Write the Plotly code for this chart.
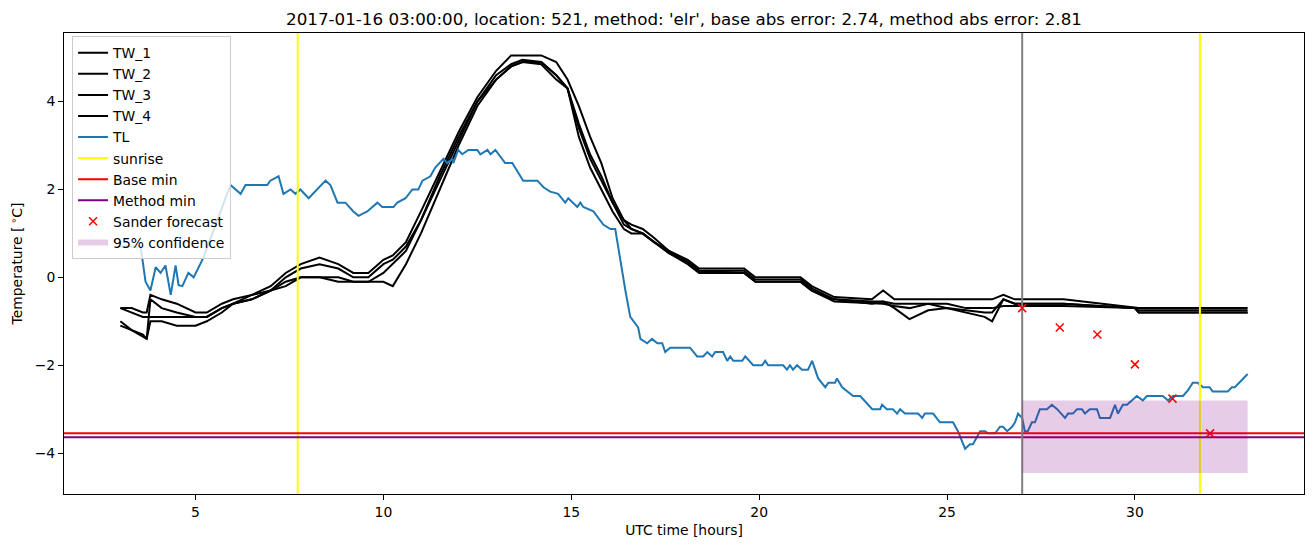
import plotly.graph_objects as go

# ---------------- data ----------------
title_text = ("2017-01-16 03:00:00, location: 521, method: 'elr', "
              "base abs error: 2.74, method abs error: 2.81")

tw_time = [3.0, 3.3, 3.6, 3.7, 3.8, 4.1, 4.5, 5.0, 5.3, 5.7, 6.0, 6.5, 7.0, 7.4, 7.8,
           8.3, 8.8, 9.2, 9.6, 10.0, 10.25, 10.6, 11.0, 11.5, 12.0, 12.5, 13.0, 13.4,
           13.7, 14.2, 14.6, 14.9, 15.2, 15.5, 15.8, 16.1, 16.4, 16.6, 16.9, 17.2,
           17.6, 18.1, 18.4, 19.6, 19.9, 21.1, 21.4, 22.0, 23.0, 23.3, 23.6, 24.0,
           24.5, 25.0, 25.5, 26.0, 26.2, 26.5, 26.8, 28.1, 30.0, 30.1, 31.0, 32.0, 33.0]

tw_1 = [-0.7, -0.7, -0.8, -0.8, -0.4, -0.5, -0.6, -0.8, -0.8, -0.6, -0.5, -0.4, -0.2, 0.1, 0.3,
        0.45, 0.3, 0.1, 0.1, 0.4, 0.5, 0.8, 1.5, 2.4, 3.3, 4.1, 4.7, 5.05,
        5.05, 5.05, 4.9, 4.5, 3.9, 3.2, 2.6, 1.8, 1.3, 1.2, 1.1, 0.9,
        0.6, 0.4, 0.2, 0.2, 0.0, 0.0, -0.2, -0.45, -0.5, -0.3, -0.5, -0.5,
        -0.5, -0.5, -0.5, -0.5, -0.5, -0.4, -0.5, -0.5, -0.7, -0.7, -0.7, -0.7, -0.7]

tw_2 = [-0.7, -0.8, -0.9, -0.9, -0.9, -0.9, -0.9, -0.9, -0.9, -0.7, -0.6, -0.4, -0.3, 0.0, 0.2,
        0.3, 0.2, 0.0, 0.0, 0.3, 0.4, 0.7, 1.3, 2.2, 3.1, 4.0, 4.5, 4.8,
        4.9, 4.9, 4.6, 4.3, 3.5, 2.8, 2.3, 1.7, 1.2, 1.1, 1.0, 0.8,
        0.6, 0.35, 0.15, 0.15, -0.05, -0.05, -0.25, -0.5, -0.55, -0.55, -0.7, -0.95,
        -0.75, -0.7, -0.75, -0.8, -0.8, -0.5, -0.6, -0.6, -0.7, -0.8, -0.8, -0.8, -0.8]

tw_3 = [-1.0, -1.2, -1.35, -1.4, -0.5, -0.7, -0.8, -0.9, -0.9, -0.7, -0.6, -0.5, -0.3, -0.2, 0.0,
        0.0, 0.0, -0.1, -0.1, 0.1, 0.3, 0.6, 1.3, 2.3, 3.2, 4.0, 4.6, 4.85,
        4.95, 4.9, 4.6, 4.3, 3.4, 2.7, 2.2, 1.7, 1.3, 1.1, 1.0, 0.8,
        0.55, 0.35, 0.15, 0.1, -0.1, -0.1, -0.3, -0.55, -0.6, -0.6, -0.65, -0.7,
        -0.6, -0.7, -0.8, -0.9, -1.0, -0.5, -0.6, -0.6, -0.7, -0.75, -0.75, -0.75, -0.75]

tw_4 = [-1.1, -1.2, -1.3, -1.4, -1.0, -1.0, -1.1, -1.1, -1.0, -0.8, -0.6, -0.5, -0.3, -0.1, 0.0,
        0.0, -0.1, -0.1, -0.1, -0.1, -0.2, 0.3, 1.0, 2.0, 3.0, 3.9, 4.5, 4.8,
        4.9, 4.85, 4.5, 4.3, 3.2, 2.5, 2.0, 1.5, 1.1, 1.0, 1.0, 0.8,
        0.55, 0.3, 0.1, 0.1, -0.1, -0.1, -0.3, -0.5, -0.6, -0.55, -0.6, -0.6,
        -0.6, -0.6, -0.7, -0.7, -0.7, -0.65, -0.65, -0.65, -0.7, -0.8, -0.8, -0.8, -0.8]

tl_time = [3.0, 3.54, 3.67, 3.80, 3.94, 4.07, 4.20, 4.34, 4.47, 4.55, 4.65, 4.81, 4.95, 5.13,
           5.21, 5.93, 6.20, 6.33, 6.91, 6.99, 7.21, 7.34, 7.53, 7.66, 7.79, 8.01, 8.24,
           8.46, 8.59, 8.78, 8.99, 9.20, 9.34, 9.57, 9.84, 9.97, 10.27, 10.37, 10.59,
           10.77, 10.93, 11.04, 11.25, 11.38, 11.60, 11.70, 11.84, 11.86, 11.99, 12.10,
           12.26, 12.50, 12.58, 12.77, 12.85, 12.98, 13.24, 13.43, 13.72, 14.10, 14.26,
           14.44, 14.65, 14.84, 14.92, 15.16, 15.24, 15.32, 15.59, 15.85, 16.04, 16.17,
           16.44, 16.57, 16.78, 16.84, 17.02, 17.15, 17.29, 17.42, 17.50, 17.63, 18.16,
           18.35, 18.51, 18.62, 18.75, 18.83, 19.04, 19.15, 19.23, 19.31, 19.55, 19.63,
           19.84, 20.08, 20.16, 20.24, 20.64, 20.74, 20.82, 20.90, 21.01, 21.14, 21.30,
           21.41, 21.57, 21.76, 21.84, 22.02, 22.07, 22.21, 22.50, 22.69, 23.01, 23.22,
           23.27, 23.40, 23.56, 23.67, 23.75, 23.88, 24.23, 24.34, 24.41, 24.63, 24.81,
           25.16, 25.29, 25.48, 25.61, 25.69, 25.88, 26.01, 26.09, 26.28, 26.41, 26.49,
           26.60, 26.73, 26.81, 26.89, 27.00, 27.07, 27.15, 27.26, 27.34, 27.47, 27.66,
           27.79, 27.93, 28.14, 28.22, 28.35, 28.46, 28.59, 28.67, 28.80, 28.99, 29.07,
           29.34, 29.47, 29.55, 29.68, 29.79, 29.92, 30.05, 30.21, 30.32, 30.74, 30.88,
           31.01, 31.28, 31.41, 31.54, 31.67, 31.81, 31.99, 32.07, 32.47, 32.58, 32.66, 33.0]

tl_vals = [0.7, 0.7, -0.1, -0.3, 0.23, 0.1, 0.27, -0.4, 0.27, -0.18, -0.2, 0.1, 0.0, 0.3,
           0.45, 2.1, 1.9, 2.1, 2.1, 2.2, 2.3, 1.9, 2.0, 1.9, 2.0, 1.8, 2.0,
           2.2, 2.1, 1.7, 1.7, 1.5, 1.4, 1.5, 1.7, 1.6, 1.6, 1.7, 1.8,
           2.0, 2.0, 2.2, 2.3, 2.5, 2.7, 2.6, 2.7, 2.6, 2.9, 2.8,
           2.9, 2.9, 2.8, 2.9, 2.8, 2.9, 2.6, 2.6, 2.2, 2.2, 2.05,
           1.95, 1.9, 1.7, 1.8, 1.6, 1.7, 1.6, 1.5, 1.2, 1.1, 1.1,
           -0.3, -0.9, -1.14, -1.4, -1.5, -1.4, -1.5, -1.5, -1.7, -1.6, -1.6,
           -1.8, -1.8, -1.7, -1.8, -1.7, -1.7, -1.9, -1.8, -1.9, -1.9, -1.8,
           -2.0, -2.0, -1.9, -2.0, -2.0, -2.1, -2.0, -2.1, -2.0, -2.1, -2.1,
           -1.9, -2.3, -2.5, -2.4, -2.4, -2.3, -2.5, -2.7, -2.7, -3.0, -3.0,
           -2.9, -3.0, -3.0, -3.1, -3.0, -3.1, -3.1, -3.2, -3.1, -3.1, -3.3,
           -3.3, -3.5, -3.9, -3.8, -3.8, -3.5, -3.5, -3.55, -3.55, -3.4, -3.4,
           -3.5, -3.4, -3.3, -3.1, -3.2, -3.5, -3.5, -3.3, -3.3, -3.0, -3.0,
           -2.9, -3.0, -3.2, -3.1, -3.1, -3.0, -3.0, -3.1, -3.0, -3.0, -3.2,
           -3.2, -2.9, -3.1, -2.9, -2.9, -2.8, -2.7, -2.8, -2.7, -2.7, -2.8,
           -2.7, -2.7, -2.57, -2.4, -2.4, -2.5, -2.5, -2.6, -2.6, -2.5, -2.5, -2.2]

sunrise_times = [7.72, 31.73]
forecast_start = 27.0
base_min = -3.55
method_min = -3.64

sander_time = [27, 28, 29, 30, 31, 32]
sander_vals = [-0.7, -1.14, -1.30, -1.98, -2.76, -3.55]

conf_time = [27.0, 33.0]
conf_low = -4.45
conf_high = -2.8

x_range = [1.5, 34.5]
y_range = [-4.93, 5.56]
x_ticks = [5, 10, 15, 20, 25, 30]
y_ticks = [-4, -2, 0, 2, 4]

# ---------------- figure ----------------
FONT = "DejaVu Sans"
fig = go.Figure()

rank = 1
for name, vals in [("TW_1", tw_1), ("TW_2", tw_2), ("TW_3", tw_3), ("TW_4", tw_4)]:
    fig.add_trace(go.Scatter(x=tw_time, y=vals, mode="lines", name=name,
                             line=dict(color="black", width=2), legendrank=rank))
    rank += 1

fig.add_trace(go.Scatter(x=tl_time, y=tl_vals, mode="lines", name="TL",
                         line=dict(color="#1f77b4", width=2), legendrank=rank))
rank += 1

for i, st in enumerate(sunrise_times):
    fig.add_trace(go.Scatter(x=[st, st], y=y_range, mode="lines", name="sunrise",
                             line=dict(color="#ffff00", width=2),
                             showlegend=(i == 0), legendrank=rank))
rank += 1

fig.add_trace(go.Scatter(x=x_range, y=[base_min, base_min], mode="lines", name="Base min",
                         line=dict(color="red", width=2), legendrank=rank))
rank += 1
fig.add_trace(go.Scatter(x=x_range, y=[method_min, method_min], mode="lines", name="Method min",
                         line=dict(color="purple", width=2), legendrank=rank))
rank += 1

fig.add_trace(go.Scatter(x=[forecast_start, forecast_start], y=y_range, mode="lines",
                         line=dict(color="gray", width=2), showlegend=False))

fig.add_trace(go.Scatter(x=sander_time, y=sander_vals, mode="markers", name="Sander forecast",
                         marker=dict(symbol="x-thin", size=8, color="red",
                                     line=dict(width=1.5, color="red")),
                         legendrank=rank))
rank += 1

fig.add_trace(go.Scatter(x=[conf_time[0], conf_time[1], conf_time[1], conf_time[0], conf_time[0]],
                         y=[conf_low, conf_low, conf_high, conf_high, conf_low],
                         mode="none", fill="toself", fillcolor="rgba(128,0,128,0.2)",
                         name="95% confidence", legendrank=rank))

axis_common = dict(showline=True, linecolor="black", linewidth=1, mirror=True,
                   ticks="outside", ticklen=5, tickwidth=1, tickcolor="black",
                   showgrid=False, zeroline=False,
                   tickfont=dict(family=FONT, size=13.9, color="black"))

fig.update_layout(
    width=1313, height=547,
    margin=dict(l=64, r=9, t=33, b=53),
    paper_bgcolor="white", plot_bgcolor="white",
    font=dict(family=FONT, size=13.9, color="black"),
    title=dict(text=title_text, x=0.5, xanchor="center", xref="paper",
               y=1, yref="paper", yanchor="bottom", pad=dict(b=8),
               font=dict(family=FONT, size=16.7, color="black")),
    xaxis=dict(range=x_range, tickvals=x_ticks,
               title=dict(text="UTC time [hours]", standoff=6,
                          font=dict(family=FONT, size=13.9)),
               **axis_common),
    yaxis=dict(range=y_range, tickvals=y_ticks,
               title=dict(text="Temperature [\u2009<sup>∘</sup>C]", standoff=8,
                          font=dict(family=FONT, size=13.9)),
               **axis_common),
    legend=dict(x=0.0065, y=0.993, xanchor="left", yanchor="top",
                bgcolor="rgba(255,255,255,0.8)", bordercolor="#cccccc", borderwidth=1,
                font=dict(family=FONT, size=13.9, color="black"),
                tracegroupgap=0),
    showlegend=True,
)

fig.write_html("out.html")
